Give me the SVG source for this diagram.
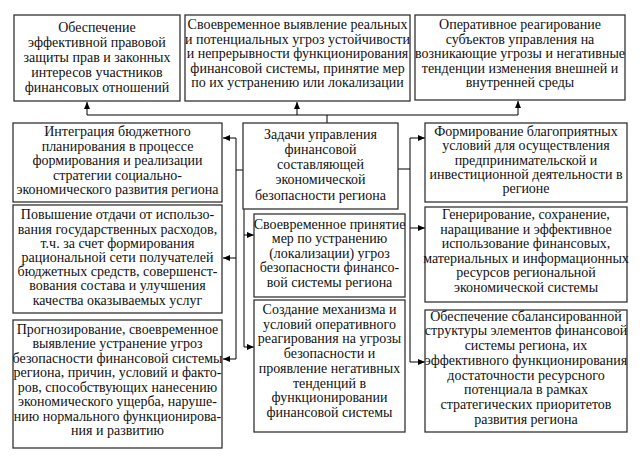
<svg xmlns="http://www.w3.org/2000/svg" width="640" height="458" viewBox="0 0 640 458">
<defs>
<marker id="ah" markerUnits="userSpaceOnUse" markerWidth="7" markerHeight="6" refX="7" refY="3" orient="auto">
<path d="M0,0 L7,3 L0,6 z" fill="#000"/>
</marker>
<style>
.box{fill:#fff;stroke:#333;stroke-width:1.3}
.t{fill:#111;text-anchor:middle}
.c{fill:none;stroke:#000;stroke-width:1}
.a{fill:none;stroke:#000;stroke-width:1;marker-end:url(#ah)}
</style>
</defs>
<rect width="640" height="458" fill="#fff"/>
<g id="connectors">
<path class="c" d="M327,123 V115 M87,115 H518"/>
<path class="a" d="M87,115 V102"/>
<path class="a" d="M297,115 V102"/>
<path class="a" d="M518,115 V101"/>
<path class="c" d="M243,170 H236 M236,138 V359"/>
<path class="a" d="M236,138 H223"/>
<path class="a" d="M236,258 H223"/>
<path class="a" d="M236,359 H223"/>
<path class="c" d="M244,209 V347"/>
<path class="a" d="M244,235 H254"/>
<path class="a" d="M244,347 H254"/>
<path class="c" d="M398,169 H410 M410,138 V362"/>
<path class="a" d="M410,138 H425"/>
<path class="a" d="M410,228 H425"/>
<path class="a" d="M410,362 H425"/>
</g>
<g font-family="Times New Roman, Liberation Serif, serif" font-size="14">
<g id="nodeA">
<rect class="box" x="14" y="15" width="166" height="86"/>
<text class="t"><tspan x="97" y="32.3">Обеспечение</tspan><tspan x="97" y="47.3">эффективной правовой</tspan><tspan x="97" y="62.3">защиты прав и законных</tspan><tspan x="97" y="77.3">интересов участников</tspan><tspan x="97" y="92.3">финансовых отношений</tspan></text>
</g>
<g id="nodeB">
<rect class="box" x="185" y="15" width="225" height="86"/>
<text class="t"><tspan x="297.5" y="29">Своевременное выявление реальных</tspan><tspan x="297.5" y="43.5">и потенциальных угроз устойчивости</tspan><tspan x="297.5" y="58">и непрерывности функционирования</tspan><tspan x="297.5" y="72.5">финансовой системы, принятие мер</tspan><tspan x="297.5" y="87">по их устранению или локализации</tspan></text>
</g>
<g id="nodeC">
<rect class="box" x="415" y="15" width="210" height="85"/>
<text class="t"><tspan x="520" y="29">Оперативное реагирование</tspan><tspan x="520" y="43.5">субъектов управления на</tspan><tspan x="520" y="58">возникающие угрозы и негативные</tspan><tspan x="520" y="72.5">тенденции изменения внешней и</tspan><tspan x="520" y="87">внутренней среды</tspan></text>
</g>
<g id="nodeCenter">
<rect class="box" x="243" y="123" width="155" height="86"/>
<text class="t"><tspan x="320.5" y="139">Задачи управления</tspan><tspan x="320.5" y="154">финансовой</tspan><tspan x="320.5" y="169">составляющей</tspan><tspan x="320.5" y="184">экономической</tspan><tspan x="320.5" y="199.5">безопасности региона</tspan></text>
</g>
<g id="nodeL1">
<rect class="box" x="13" y="123" width="209" height="79"/>
<text class="t"><tspan x="117.5" y="136">Интеграция бюджетного</tspan><tspan x="117.5" y="150.5">планирования в процессе</tspan><tspan x="117.5" y="165">формирования и реализации</tspan><tspan x="117.5" y="179.5">стратегии социально-</tspan><tspan x="117.5" y="194">экономического развития региона</tspan></text>
</g>
<g id="nodeL2">
<rect class="box" x="13" y="205" width="209" height="108"/>
<text class="t"><tspan x="117.5" y="219.3">Повышение отдачи от использо-</tspan><tspan x="117.5" y="233.5">вания государственных расходов,</tspan><tspan x="117.5" y="247.7">т.ч. за счет формирования</tspan><tspan x="117.5" y="261.9">рациональной сети получателей</tspan><tspan x="117.5" y="276.1">бюджетных средств, совершенст-</tspan><tspan x="117.5" y="290.3">вования состава и улучшения</tspan><tspan x="117.5" y="304.5">качества оказываемых услуг</tspan></text>
</g>
<g id="nodeL3">
<rect class="box" x="13" y="320" width="209" height="128"/>
<text class="t"><tspan x="117.5" y="333.5">Прогнозирование, своевременное</tspan><tspan x="117.5" y="348">выявление устранение угроз</tspan><tspan x="117.5" y="362.5">безопасности финансовой системы</tspan><tspan x="117.5" y="377">региона, причин, условий и факто-</tspan><tspan x="117.5" y="391.5">ров, способствующих нанесению</tspan><tspan x="117.5" y="406">экономического ущерба, наруше-</tspan><tspan x="117.5" y="420.5">нию нормального функционирова-</tspan><tspan x="117.5" y="435">ния и развитию</tspan></text>
</g>
<g id="nodeM1">
<rect class="box" x="254" y="214" width="151" height="83"/>
<text class="t"><tspan x="329.5" y="229">Своевременное принятие</tspan><tspan x="329.5" y="243.4">мер по устранению</tspan><tspan x="329.5" y="257.8">(локализации) угроз</tspan><tspan x="329.5" y="272.2">безопасности финансо-</tspan><tspan x="329.5" y="286.6">вой системы региона</tspan></text>
</g>
<g id="nodeM2">
<rect class="box" x="254" y="300" width="151" height="132"/>
<text class="t"><tspan x="329.5" y="314">Создание механизма и</tspan><tspan x="329.5" y="328.7">условий оперативного</tspan><tspan x="329.5" y="343.4">реагирования на угрозы</tspan><tspan x="329.5" y="358.1">безопасности и</tspan><tspan x="329.5" y="372.8">проявление негативных</tspan><tspan x="329.5" y="387.5">тенденций в</tspan><tspan x="329.5" y="402.2">функционировании</tspan><tspan x="329.5" y="416.9">финансовой системы</tspan></text>
</g>
<g id="nodeR1">
<rect class="box" x="425" y="123" width="202" height="79"/>
<text class="t"><tspan x="526" y="135.7">Формирование благоприятных</tspan><tspan x="526" y="150.1">условий для осуществления</tspan><tspan x="526" y="164.5">предпринимательской  и</tspan><tspan x="526" y="178.9">инвестиционной деятельности в</tspan><tspan x="526" y="193.3">регионе</tspan></text>
</g>
<g id="nodeR2">
<rect class="box" x="425" y="207" width="202" height="95"/>
<text class="t"><tspan x="526" y="219">Генерирование, сохранение,</tspan><tspan x="526" y="233.5">наращивание и эффективное</tspan><tspan x="526" y="248">использование финансовых,</tspan><tspan x="526" y="262.5">материальных и информационных</tspan><tspan x="526" y="277">ресурсов региональной</tspan><tspan x="526" y="291.5">экономической системы</tspan></text>
</g>
<g id="nodeR3">
<rect class="box" x="425" y="310" width="202" height="122"/>
<text class="t"><tspan x="526" y="320.7">Обеспечение сбалансированной</tspan><tspan x="526" y="335.4">структуры элементов финансовой</tspan><tspan x="526" y="350.1">системы региона, их</tspan><tspan x="526" y="364.8">эффективного функционирования</tspan><tspan x="526" y="379.5">достаточности ресурсного</tspan><tspan x="526" y="394.2">потенциала в рамках</tspan><tspan x="526" y="408.9">стратегических приоритетов</tspan><tspan x="526" y="423.6">развития региона</tspan></text>
</g>
</g>
</svg>
